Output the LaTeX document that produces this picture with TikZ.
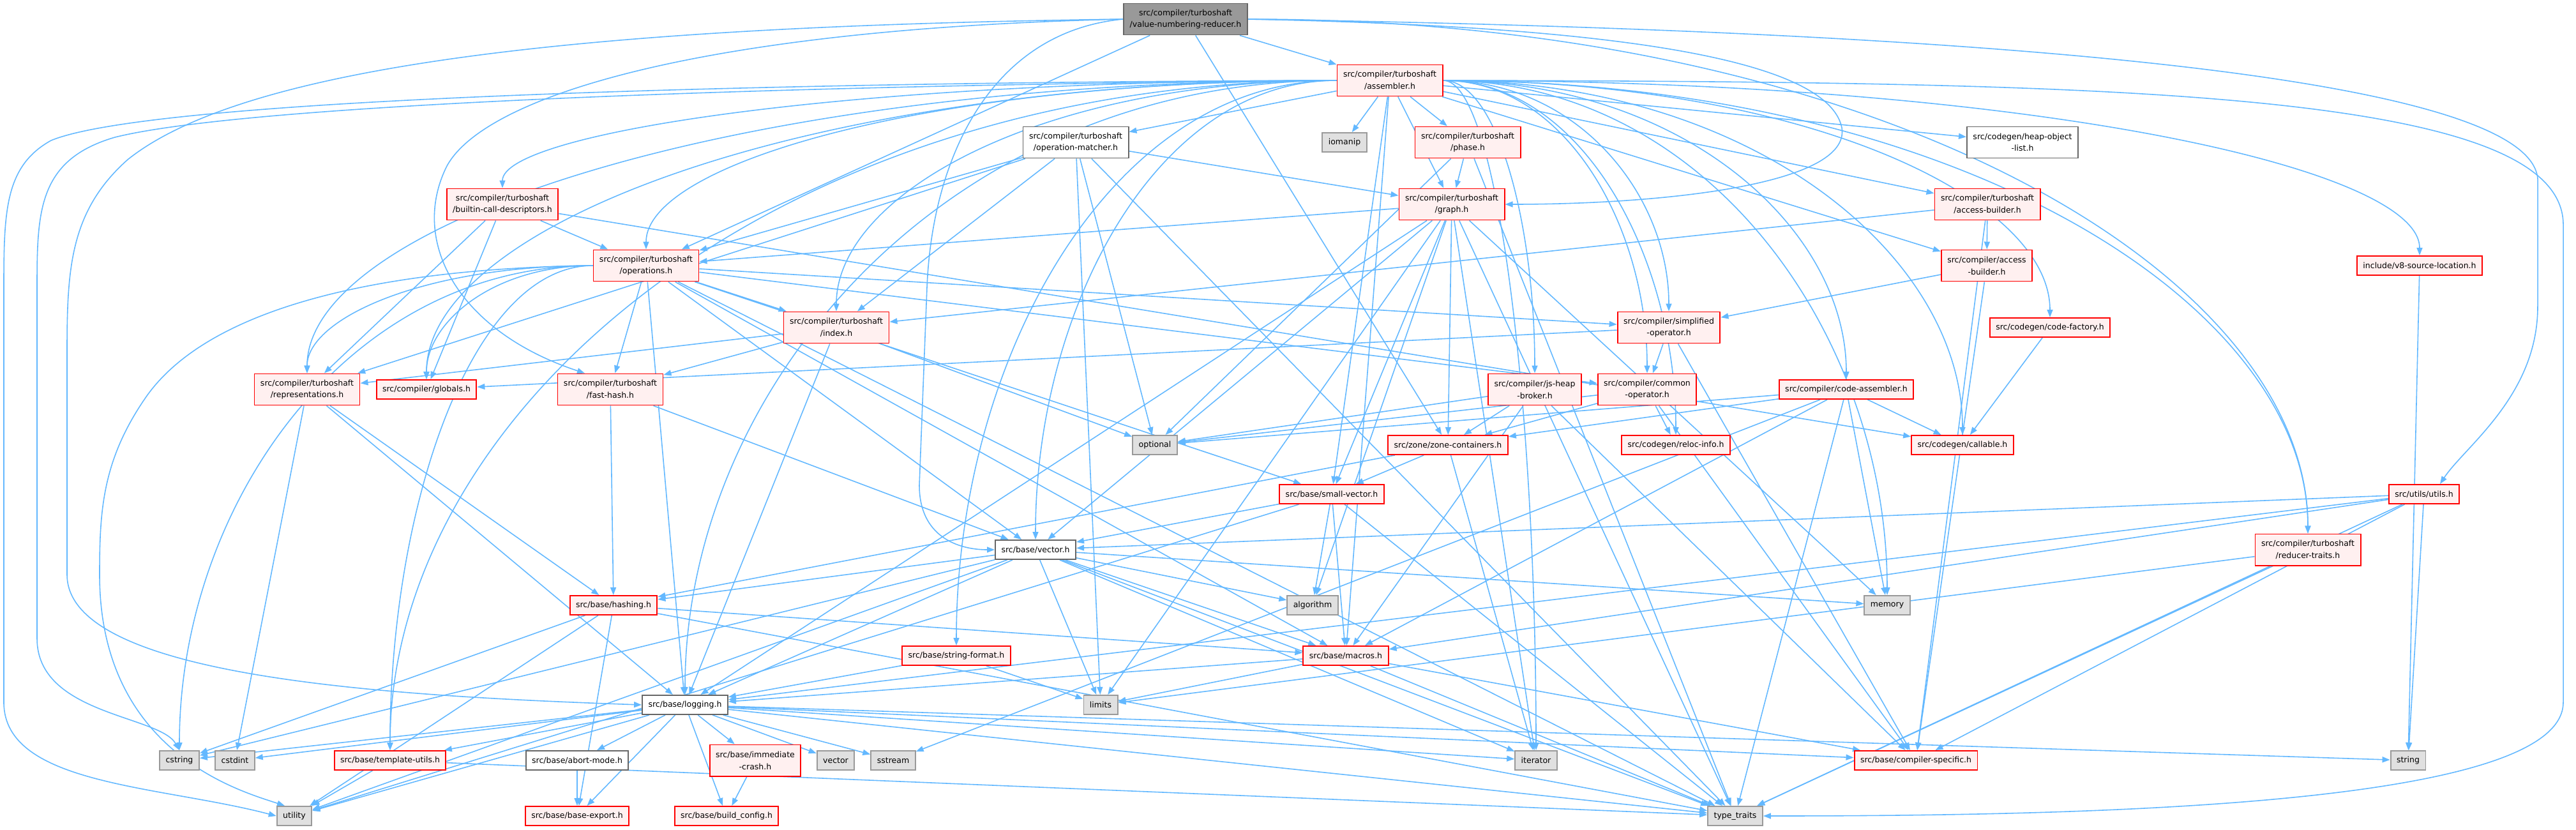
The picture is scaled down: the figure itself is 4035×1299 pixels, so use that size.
\documentclass[tikz,border=0pt]{standalone}
\usepackage{fontspec}
\setmainfont{DejaVu Sans}
\usetikzlibrary{arrows.meta,calc}
\definecolor{edgec}{HTML}{63B8FF}
\definecolor{redb}{HTML}{FF0000}
\definecolor{redfill}{HTML}{FFF0F0}
\definecolor{sysfill}{HTML}{E0E0E0}
\definecolor{sysb}{HTML}{999999}
\definecolor{rootfill}{HTML}{999999}
\definecolor{rootb}{HTML}{666666}
\definecolor{whiteb}{HTML}{666666}
\pgfdeclarelayer{bg}
\pgfsetlayers{bg,main}
\begin{document}
\begin{tikzpicture}[x=0.01cm,y=-0.01cm,
  font=\fontsize{3.56}{5.3}\selectfont,
  box/.style={rectangle, inner xsep=0.095cm, inner ysep=0cm, align=center, line width=0.55pt},
  two/.style={minimum height=0.49cm},
  one/.style={minimum height=0.30cm},
  redn/.style={box, draw=redb, fill=redfill},
  sysn/.style={box, one, draw=sysb, fill=sysfill},
  whn/.style={box, draw=whiteb, fill=white},
  rootn/.style={box, draw=rootb, fill=rootfill},
  edge/.style={draw=edgec, line width=0.45pt, -{Triangle[length=0.12cm,width=0.09cm]}}]
\useasboundingbox (0,0) rectangle (4035,1299);
% nodes
\node[rootn,two] (vnr) at (1857,30) {src/compiler/turboshaft\\/value-numbering-reducer.h};
\node[redn,two] (assembler) at (2177,126) {src/compiler/turboshaft\\/assembler.h};
\node[whn,two] (opmatcher) at (1685,223) {src/compiler/turboshaft\\/operation-matcher.h};
\node[sysn] (iomanip) at (2106,223) {iomanip};
\node[redn,two] (phase) at (2299,223) {src/compiler/turboshaft\\/phase.h};
\node[redn,two] (graph) at (2274,320) {src/compiler/turboshaft\\/graph.h};
\node[whn,two] (heapobj) at (3168,223) {src/codegen/heap-object\\-list.h};
\node[redn,two] (tsaccess) at (3113,320) {src/compiler/turboshaft\\/access-builder.h};
\node[redn,two] (access) at (3112,416) {src/compiler/access\\-builder.h};
\node[redn,one] (srcloc) at (3790,416) {include/v8-source-location.h};
\node[redn,two] (builtin) at (787,320) {src/compiler/turboshaft\\/builtin-call-descriptors.h};
\node[redn,two] (operations) at (1012,416) {src/compiler/turboshaft\\/operations.h};
\node[redn,two] (index) at (1310,513) {src/compiler/turboshaft\\/index.h};
\node[redn,two] (repr) at (481,610) {src/compiler/turboshaft\\/representations.h};
\node[redn,one] (globals) at (668,610) {src/compiler/globals.h};
\node[redn,two] (fasthash) at (956,610) {src/compiler/turboshaft\\/fast-hash.h};
\node[redn,two] (simplified) at (2614,513) {src/compiler/simplified\\-operator.h};
\node[redn,two] (jsheap) at (2404,610) {src/compiler/js-heap\\-broker.h};
\node[redn,two] (common) at (2580,610) {src/compiler/common\\-operator.h};
\node[sysn] (optional) at (1809,697) {optional};
\node[redn,one] (zone) at (2268,697) {src/zone/zone-containers.h};
\node[redn,one] (reloc) at (2625,697) {src/codegen/reloc-info.h};
\node[redn,one] (smallvec) at (2086,774) {src/base/small-vector.h};
\node[whn,one] (vectorh) at (1622,861) {src/base/vector.h};
\node[redn,one] (codefactory) at (3211,513) {src/codegen/code-factory.h};
\node[redn,one] (codeasm) at (2892,610) {src/compiler/code-assembler.h};
\node[redn,one] (callable) at (3074,697) {src/codegen/callable.h};
\node[redn,one] (utils) at (3797,774) {src/utils/utils.h};
\node[redn,two] (reducertraits) at (3615,861) {src/compiler/turboshaft\\/reducer-traits.h};
\node[redn,one] (hashing) at (961,948) {src/base/hashing.h};
\node[whn,one] (logging) at (1073,1104) {src/base/logging.h};
\node[sysn] (cstring) at (281,1191) {cstring};
\node[sysn] (cstdint) at (368,1191) {cstdint};
\node[redn,one] (templutils) at (611,1191) {src/base/template-utils.h};
\node[whn,one] (abortmode) at (904,1191) {src/base/abort-mode.h};
\node[redn,two] (immcrash) at (1183,1191) {src/base/immediate\\-crash.h};
\node[sysn] (vector) at (1309,1191) {vector};
\node[sysn] (sstream) at (1399,1191) {sstream};
\node[sysn] (utility) at (461,1278) {utility};
\node[redn,one] (baseexport) at (904,1278) {src/base/base-export.h};
\node[redn,one] (buildconfig) at (1138,1278) {src/base/build\_config.h};
\node[sysn] (algorithm) at (2056,948) {algorithm};
\node[redn,one] (stringformat) at (1498,1027) {src/base/string-format.h};
\node[redn,one] (macros) at (2108,1027) {src/base/macros.h};
\node[sysn] (limits) at (1724,1104) {limits};
\node[sysn] (iterator) at (2406,1191) {iterator};
\node[sysn] (typetraits) at (2718,1278) {type\_traits};
\node[sysn] (memory) at (2956,948) {memory};
\node[redn,one] (compspec) at (3001,1191) {src/base/compiler-specific.h};
\node[sysn] (string) at (3772,1191) {string};
% edges
\begin{pgfonlayer}{bg}
% straight connectors
\foreach \s/\t in {
 vnr/assembler, vnr/operations, vnr/zone,
 assembler/opmatcher, assembler/iomanip, assembler/phase, assembler/graph, assembler/heapobj,
 assembler/tsaccess, assembler/access, assembler/smallvec, assembler/macros,
 opmatcher/repr, opmatcher/operations, opmatcher/index, opmatcher/limits, opmatcher/optional, opmatcher/graph,
 opmatcher/typetraits,
 phase/graph, phase/optional, phase/typetraits,
 graph/operations, graph/algorithm, graph/iterator, graph/limits, graph/memory, graph/typetraits, graph/logging,
 graph/smallvec, graph/vectorh, graph/zone,
 tsaccess/index, tsaccess/access, tsaccess/compspec,
 access/simplified, access/compspec,
 srcloc/string,
 builtin/operations, builtin/repr, builtin/globals, builtin/callable,
 operations/index, operations/fasthash, operations/typetraits, operations/logging, operations/macros,
 operations/smallvec, operations/vectorh, operations/simplified, operations/common,
 index/repr, index/fasthash, index/logging, index/optional,
 repr/cstdint, repr/logging, repr/hashing,
 fasthash/hashing, fasthash/vectorh,
 simplified/globals, simplified/common, simplified/compspec,
 jsheap/optional, jsheap/zone, jsheap/macros, jsheap/compspec,
 common/optional, common/zone, common/compspec, common/reloc,
 codefactory/callable,
 codeasm/optional, codeasm/zone, codeasm/callable, codeasm/memory, codeasm/sstream, codeasm/typetraits, codeasm/macros,
 zone/hashing, zone/smallvec, zone/iterator,
 smallvec/utility, smallvec/vectorh, smallvec/algorithm, smallvec/macros, smallvec/typetraits,
 vectorh/hashing, vectorh/cstring, vectorh/utility, vectorh/logging, vectorh/typetraits, vectorh/limits,
 vectorh/iterator, vectorh/macros, vectorh/algorithm, vectorh/memory,
 hashing/cstring, hashing/utility, hashing/baseexport, hashing/typetraits, hashing/macros,
 macros/logging, macros/limits, macros/typetraits, macros/compspec,
 stringformat/logging, stringformat/limits,
 utils/string, utils/typetraits, utils/compspec, utils/logging, utils/macros, utils/vectorh,
 reducertraits/limits, reducertraits/typetraits,
 logging/cstring, logging/cstdint, logging/templutils, logging/utility, logging/abortmode, logging/baseexport,
 logging/buildconfig, logging/immcrash, logging/vector, logging/sstream, logging/iterator, logging/compspec,
 logging/typetraits, logging/string,
 abortmode/baseexport, templutils/utility, templutils/typetraits, immcrash/buildconfig}
 \draw[edge] (\s) -- (\t);
% connectors leaving to the left and sweeping down
\foreach \s/\t in {
 assembler/builtin, assembler/operations, assembler/index, assembler/repr, assembler/globals,
 assembler/templutils, assembler/logging, assembler/vectorh, assembler/stringformat,
 operations/repr, operations/globals, operations/cstring, operations/templutils}
 \draw[edge] (\s.west) .. controls ($(\s.west)!0.6!(\t.north |- \s.west)$)
   and ($(\t.north)!0.5!(\t.north |- \s.west)$) .. (\t.north);
% connectors leaving to the right and sweeping down
\foreach \s/\t in {
 assembler/srcloc, assembler/simplified, assembler/jsheap,
 assembler/common, assembler/reloc, assembler/codefactory, assembler/codeasm, assembler/callable,
 assembler/reducertraits, assembler/memory, assembler/iterator, vnr/reducertraits}
 \draw[edge] (\s.east) .. controls ($(\s.east)!0.6!(\t.north |- \s.east)$)
   and ($(\t.north)!0.5!(\t.north |- \s.east)$) .. (\t.north);
% long connectors round the margins
\draw[edge] (vnr.west) .. controls (1100,45) and (760,150) .. (700,260)
  .. controls (640,380) and (720,520) .. ([xshift=-0.4cm]fasthash.north);
\draw[edge] (vnr.west) .. controls (1000,40) and (400,90) .. (200,250)
  .. controls (110,330) and (105,420) .. (105,550) -- (105,900)
  .. controls (105,1060) and (600,1090) .. (logging.west);
\draw[edge] (vnr.west) .. controls (1550,50) and (1460,250) .. (1452,450) -- (1440,760)
  .. controls (1440,840) and (1500,861) .. (vectorh.west);
\draw[edge] (vnr.east) .. controls (2450,40) and (2860,80) .. (2885,200)
  .. controls (2900,290) and (2600,320) .. (graph.east);
\draw[edge] (vnr.east) .. controls (2900,45) and (3960,100) .. (3975,280) -- (3975,480)
  .. controls (3975,620) and (3860,700) .. ([xshift=0.25cm]utils.north);
\draw[edge] (assembler.east) .. controls (3300,128) and (4010,140) .. (4015,350) -- (4015,1100)
  .. controls (4015,1260) and (3300,1278) .. (typetraits.east);
\draw[edge] (assembler.west) .. controls (1300,128) and (250,150) .. (80,220)
  .. controls (8,260) and (6,330) .. (6,450) -- (6,1100)
  .. controls (6,1230) and (250,1230) .. (utility.west);
\draw[edge] (assembler.west) .. controls (1300,132) and (400,160) .. (180,215)
  .. controls (60,250) and (58,330) .. (58,450) -- (58,1000)
  .. controls (58,1120) and (250,1120) .. (cstring.north);
\draw[edge] (operations.west) .. controls (600,420) and (330,480) .. (230,620)
  .. controls (160,720) and (156,800) .. (156,900)
  .. controls (156,1180) and (380,1240) .. ([xshift=-0.15cm]utility.north);
\end{pgfonlayer}
\end{tikzpicture}
\end{document}
